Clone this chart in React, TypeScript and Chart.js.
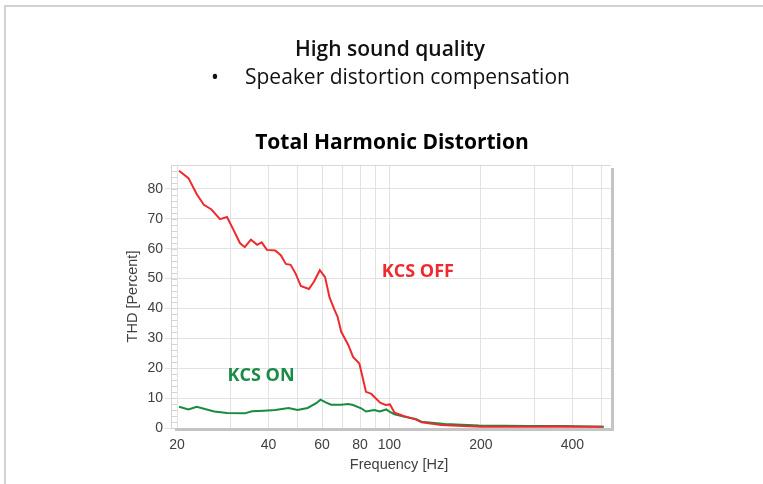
import React, { useEffect, useRef } from "react";
import { Chart, registerables } from "chart.js";

Chart.register(...registerables);

// ---------- data ----------
const redFreq = [20.3, 21.8, 23.2, 24.5, 25.9, 27.7, 29.2, 30.7, 32.2, 33.4, 35.0, 36.7, 38.0, 39.5, 42.1, 43.9, 45.6, 47.3, 49.2, 51.1, 54.3, 56.5, 59.0, 61.4, 63.5, 65.9, 67.5, 69.4, 73.2, 75.9, 79.6, 83.7, 87.2, 93.2, 97.1, 100.4, 103.9, 111.3, 121.9, 127.6, 148, 175, 201, 250, 303, 350, 400, 503];
const redThd = [86.1, 83.6, 78.3, 74.7, 73.2, 69.9, 70.6, 66.2, 61.9, 60.5, 63.0, 61.3, 62.1, 59.6, 59.4, 57.8, 54.9, 54.6, 51.5, 47.5, 46.5, 49.0, 52.8, 50.5, 43.7, 39.6, 37.2, 32.2, 27.8, 23.8, 21.6, 12.1, 11.4, 8.5, 7.7, 7.9, 5.1, 4.0, 2.9, 1.9, 1.0, 0.7, 0.45, 0.4, 0.4, 0.5, 0.45, 0.4];

const greenFreq = [20.3, 21.8, 23.2, 26.5, 29.2, 33.4, 35.3, 38.6, 42.1, 46.6, 49.8, 53.8, 57.4, 59.3, 61.9, 64.3, 69.4, 73.2, 75.9, 80.7, 83.7, 89.2, 92.9, 97.6, 100, 103.9, 111.3, 121.9, 127.6, 152, 197, 287, 372, 508];
const greenThd = [7.1, 6.2, 7.1, 5.5, 5.0, 4.9, 5.6, 5.8, 6.0, 6.7, 6.0, 6.7, 8.3, 9.5, 8.5, 7.8, 7.8, 8.0, 7.7, 6.6, 5.5, 6.0, 5.5, 6.2, 5.5, 4.6, 3.8, 3.0, 2.1, 1.3, 0.8, 0.7, 0.7, 0.45];

const xGridValues = [20, 30, 40, 50, 60, 70, 80, 90, 100, 200, 300, 400, 500];
const xLabelValues = [20, 40, 60, 80, 100, 200, 400];
const xRange = [19.1, 536];
const yRange = [0, 88];
const yMajorStep = 10;
const yMinorStep = 2;

const xTitle = "Frequency [Hz]";
const yTitle = "THD [Percent]";

const annotationText = ["KCS OFF", "KCS ON"];
const annotationFreq = [124, 37.8];
const annotationThd = [52.1, 17.5];

const RED = "#ee2a2e";
const GREEN = "#1a8a40";
const annotationColor = [RED, "#1a8a45"];

const TICK_FONT = "'Liberation Sans', Arial, sans-serif";
const SLIDE_FONT = "'Open Sans', 'Noto Sans', sans-serif";

const decorPlugin = {
  id: "decor",
  beforeDatasetsDraw(chart: any) {
    const { ctx, chartArea: a, scales } = chart;
    ctx.save();
    ctx.strokeStyle = "#d4d4d4";
    ctx.lineWidth = 1;
    for (let v = yRange[0]; v <= yRange[1]; v += yMinorStep) {
      const y = Math.round(scales.y.getPixelForValue(v)) + 0.5;
      ctx.beginPath();
      ctx.moveTo(a.left, y);
      ctx.lineTo(a.left + 6, y);
      ctx.stroke();
    }
    ctx.strokeStyle = "#d8d8d8";
    ctx.beginPath();
    ctx.moveTo(a.left, a.top + 0.5);
    ctx.lineTo(a.right, a.top + 0.5);
    ctx.stroke();
    ctx.restore();
  },
  afterDatasetsDraw(chart: any) {
    const { ctx, chartArea: a, scales } = chart;
    ctx.save();
    ctx.fillStyle = "#c4c4c4";
    ctx.fillRect(a.left + 4, a.bottom, a.right - a.left - 1, 3);
    ctx.fillRect(a.right, a.top + 3, 3, a.bottom - a.top);
    ctx.font = `bold 18px ${SLIDE_FONT}`;
    ctx.textAlign = "center";
    ctx.textBaseline = "middle";
    annotationText.forEach((t, i) => {
      ctx.fillStyle = annotationColor[i];
      ctx.fillText(t, scales.x.getPixelForValue(annotationFreq[i]), scales.y.getPixelForValue(annotationThd[i]));
    });
    // x axis title, slightly right of the plot centre as in the original
    ctx.fillStyle = "#404040";
    ctx.font = `14.5px ${TICK_FONT}`;
    ctx.fillText(xTitle, (a.left + a.right) / 2 + 8, a.bottom + 37);
    ctx.restore();
  },
};

export default function App() {
  const ref = useRef<HTMLCanvasElement | null>(null);

  useEffect(() => {
    if (!ref.current) return;
    const chart = new Chart(ref.current, {
      type: "line",
      data: {
        datasets: [
          {
            label: "KCS OFF",
            data: redFreq.map((f, i) => ({ x: f, y: redThd[i] })),
            borderColor: RED,
            borderWidth: 2,
            pointRadius: 0,
            fill: false,
            tension: 0,
          },
          {
            label: "KCS ON",
            data: greenFreq.map((f, i) => ({ x: f, y: greenThd[i] })),
            borderColor: GREEN,
            borderWidth: 2,
            pointRadius: 0,
            fill: false,
            tension: 0,
          },
        ],
      },
      options: {
        responsive: false,
        animation: false,
        layout: { padding: { left: 111, right: 152, top: 165, bottom: 11 } },
        plugins: {
          legend: { display: false },
          tooltip: { enabled: false },
          title: { display: false },
        },
        scales: {
          x: {
            type: "logarithmic",
            min: xRange[0],
            max: xRange[1],
            afterBuildTicks: (s: any) => {
              s.ticks = xGridValues.map((v) => ({ value: v }));
            },
            afterFit: (s: any) => {
              s.height = 45;
            },
            ticks: {
              autoSkip: false,
              maxRotation: 0,
              padding: 9,
              color: "#404040",
              font: { family: TICK_FONT, size: 14 },
              callback: (v: any) => (xLabelValues.includes(Number(v)) ? String(v) : ""),
            },
            grid: { color: "#e2e2e2", drawTicks: false },
            border: { display: false },
            title: { display: false },
          },
          y: {
            type: "linear",
            min: yRange[0],
            max: yRange[1],
            afterFit: (s: any) => {
              s.width = 60;
            },
            ticks: {
              stepSize: yMajorStep,
              includeBounds: false,
              padding: 2,
              color: "#404040",
              font: { family: TICK_FONT, size: 14 },
            },
            grid: { color: "#e2e2e2", tickLength: 6 },
            border: { color: "#d4d4d4" },
            title: {
              display: true,
              text: yTitle,
              color: "#404040",
              font: { family: TICK_FONT, size: 14.5 },
              padding: { top: 13, bottom: 0 },
            },
          },
        },
      },
      plugins: [decorPlugin],
    } as any);
    return () => chart.destroy();
  }, []);

  return (
    <div style={{ position: "fixed", left: 0, top: 0, width: 763, height: 484, background: "#fff", overflow: "hidden" }}>
      <div
        style={{
          position: "absolute",
          left: 4,
          top: 5,
          right: -10,
          bottom: -10,
          borderTop: "2px solid #d2d2d2",
          borderLeft: "2px solid #d2d2d2",
        }}
      />
      <canvas ref={ref} width={763} height={484} style={{ position: "absolute", left: 0, top: 0, width: 763, height: 484 }} />
      <div
        style={{
          position: "absolute",
          left: 390,
          top: 34,
          transform: "translateX(-50%)",
          whiteSpace: "nowrap",
          fontFamily: SLIDE_FONT,
          fontWeight: 600,
          fontSize: 21,
          lineHeight: "28px",
          color: "#111",
        }}
      >
        High sound quality
      </div>
      <div
        style={{
          position: "absolute",
          left: 211,
          top: 62,
          whiteSpace: "nowrap",
          fontFamily: SLIDE_FONT,
          fontSize: 21,
          lineHeight: "28px",
          color: "#111",
        }}
      >
        •
      </div>
      <div
        style={{
          position: "absolute",
          left: 245,
          top: 62,
          whiteSpace: "nowrap",
          fontFamily: SLIDE_FONT,
          fontSize: 21,
          lineHeight: "28px",
          color: "#111",
        }}
      >
        Speaker distortion compensation
      </div>
      <div
        style={{
          position: "absolute",
          left: 392,
          top: 126,
          transform: "translateX(-50%)",
          whiteSpace: "nowrap",
          fontFamily: SLIDE_FONT,
          fontWeight: 700,
          fontSize: 21,
          lineHeight: "30px",
          color: "#000",
        }}
      >
        Total Harmonic Distortion
      </div>
    </div>
  );
}
